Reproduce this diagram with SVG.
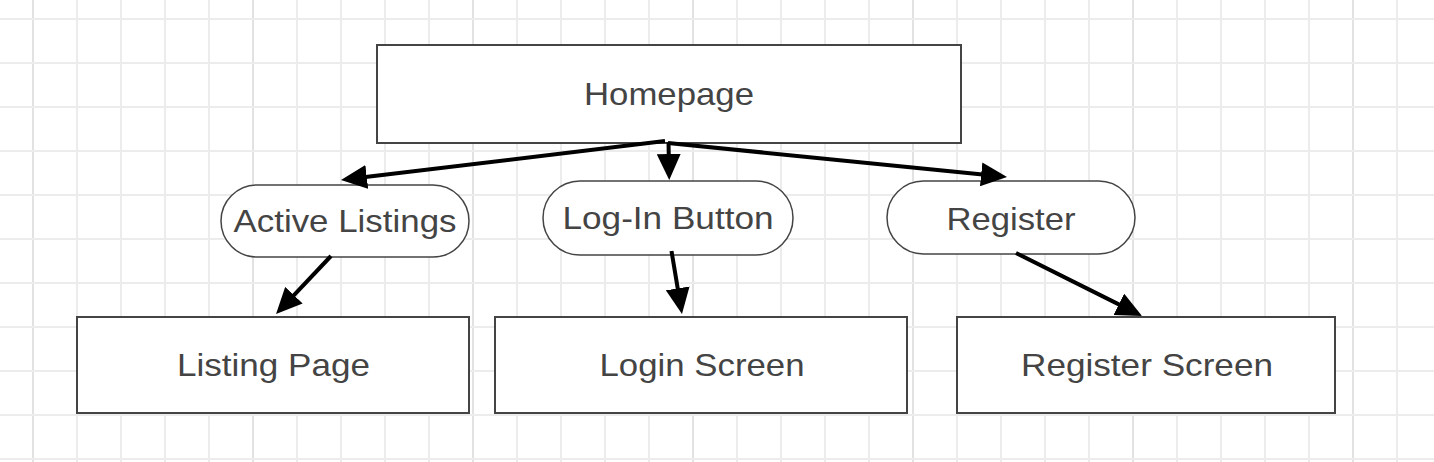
<svg xmlns="http://www.w3.org/2000/svg" width="1434" height="462" viewBox="0 0 1434 462">
  <defs>
    <style>
      .grid line { stroke: #ececec; stroke-width: 2; }
      .grid line.major { stroke: #e2e2e2; }
      .box { fill: #ffffff; stroke: #444444; stroke-width: 2; }
      .pill { fill: #ffffff; stroke: #444444; stroke-width: 1.5; }
      .lbl { font-family: "Liberation Sans", Arial, sans-serif; font-size: 32px; fill: #444444; text-anchor: middle; }
      .conn { stroke: #000000; stroke-width: 4; fill: none; marker-end: url(#arrow); }
    </style>
    <marker id="arrow" markerUnits="userSpaceOnUse" markerWidth="26" markerHeight="24" refX="14" refY="12" orient="auto" viewBox="0 0 26 24">
      <path d="M0,0 L26,12 L0,24 Z" fill="#000000"/>
    </marker>
  </defs>
  <rect x="0" y="0" width="1434" height="462" fill="#ffffff"/>
  <g class="grid">
    <line class="major" x1="33" y1="0" x2="33" y2="462"/>
    <line x1="77" y1="0" x2="77" y2="462"/>
    <line x1="121" y1="0" x2="121" y2="462"/>
    <line x1="165" y1="0" x2="165" y2="462"/>
    <line x1="209" y1="0" x2="209" y2="462"/>
    <line class="major" x1="253" y1="0" x2="253" y2="462"/>
    <line x1="297" y1="0" x2="297" y2="462"/>
    <line x1="341" y1="0" x2="341" y2="462"/>
    <line x1="385" y1="0" x2="385" y2="462"/>
    <line x1="429" y1="0" x2="429" y2="462"/>
    <line class="major" x1="473" y1="0" x2="473" y2="462"/>
    <line x1="517" y1="0" x2="517" y2="462"/>
    <line x1="561" y1="0" x2="561" y2="462"/>
    <line x1="605" y1="0" x2="605" y2="462"/>
    <line x1="649" y1="0" x2="649" y2="462"/>
    <line class="major" x1="693" y1="0" x2="693" y2="462"/>
    <line x1="737" y1="0" x2="737" y2="462"/>
    <line x1="781" y1="0" x2="781" y2="462"/>
    <line x1="825" y1="0" x2="825" y2="462"/>
    <line x1="869" y1="0" x2="869" y2="462"/>
    <line class="major" x1="913" y1="0" x2="913" y2="462"/>
    <line x1="957" y1="0" x2="957" y2="462"/>
    <line x1="1001" y1="0" x2="1001" y2="462"/>
    <line x1="1045" y1="0" x2="1045" y2="462"/>
    <line x1="1089" y1="0" x2="1089" y2="462"/>
    <line class="major" x1="1133" y1="0" x2="1133" y2="462"/>
    <line x1="1177" y1="0" x2="1177" y2="462"/>
    <line x1="1221" y1="0" x2="1221" y2="462"/>
    <line x1="1265" y1="0" x2="1265" y2="462"/>
    <line x1="1309" y1="0" x2="1309" y2="462"/>
    <line class="major" x1="1353" y1="0" x2="1353" y2="462"/>
    <line x1="1397" y1="0" x2="1397" y2="462"/>
    <line x1="0" y1="19" x2="1434" y2="19"/>
    <line x1="0" y1="63" x2="1434" y2="63"/>
    <line x1="0" y1="107" x2="1434" y2="107"/>
    <line x1="0" y1="151" x2="1434" y2="151"/>
    <line x1="0" y1="195" x2="1434" y2="195"/>
    <line x1="0" y1="239" x2="1434" y2="239"/>
    <line x1="0" y1="283" x2="1434" y2="283"/>
    <line x1="0" y1="327" x2="1434" y2="327"/>
    <line x1="0" y1="371" x2="1434" y2="371"/>
    <line x1="0" y1="415" x2="1434" y2="415"/>
    <line x1="0" y1="459" x2="1434" y2="459"/>
  </g>

  <g id="homepage">
    <rect class="box" x="377" y="45" width="584" height="98"/>
    <text class="lbl" x="669" y="105" textLength="170" lengthAdjust="spacingAndGlyphs">Homepage</text>
  </g>
  <g id="active-listings">
    <rect class="pill" x="221" y="185" width="248" height="72" rx="36" ry="36"/>
    <text class="lbl" x="345" y="232" textLength="223" lengthAdjust="spacingAndGlyphs">Active Listings</text>
  </g>
  <g id="login-button">
    <rect class="pill" x="543" y="181" width="250" height="74" rx="37" ry="37"/>
    <text class="lbl" x="668" y="229" textLength="211" lengthAdjust="spacingAndGlyphs">Log-In Button</text>
  </g>
  <g id="register">
    <rect class="pill" x="887" y="181" width="248" height="73" rx="36.5" ry="36.5"/>
    <text class="lbl" x="1011" y="230" textLength="129" lengthAdjust="spacingAndGlyphs">Register</text>
  </g>
  <g id="listing-page">
    <rect class="box" x="77" y="317" width="392" height="96"/>
    <text class="lbl" x="273.5" y="376" textLength="193" lengthAdjust="spacingAndGlyphs">Listing Page</text>
  </g>
  <g id="login-screen">
    <rect class="box" x="495" y="317" width="412" height="96"/>
    <text class="lbl" x="702" y="376" textLength="205" lengthAdjust="spacingAndGlyphs">Login Screen</text>
  </g>
  <g id="register-screen">
    <rect class="box" x="957" y="317" width="378" height="96"/>
    <text class="lbl" x="1147" y="376" textLength="252" lengthAdjust="spacingAndGlyphs">Register Screen</text>
  </g>

  <g id="connectors">
    <line class="conn" x1="665" y1="141" x2="352.9" y2="178.6"/>
    <line class="conn" x1="668.5" y1="142" x2="669" y2="168"/>
    <line class="conn" x1="668" y1="143" x2="995.1" y2="175.8"/>
    <line class="conn" x1="331" y1="256" x2="284.3" y2="305.3"/>
    <line class="conn" x1="671.5" y1="251" x2="680" y2="302.2"/>
    <line class="conn" x1="1016" y1="253" x2="1131.3" y2="310.6"/>
  </g>
</svg>
